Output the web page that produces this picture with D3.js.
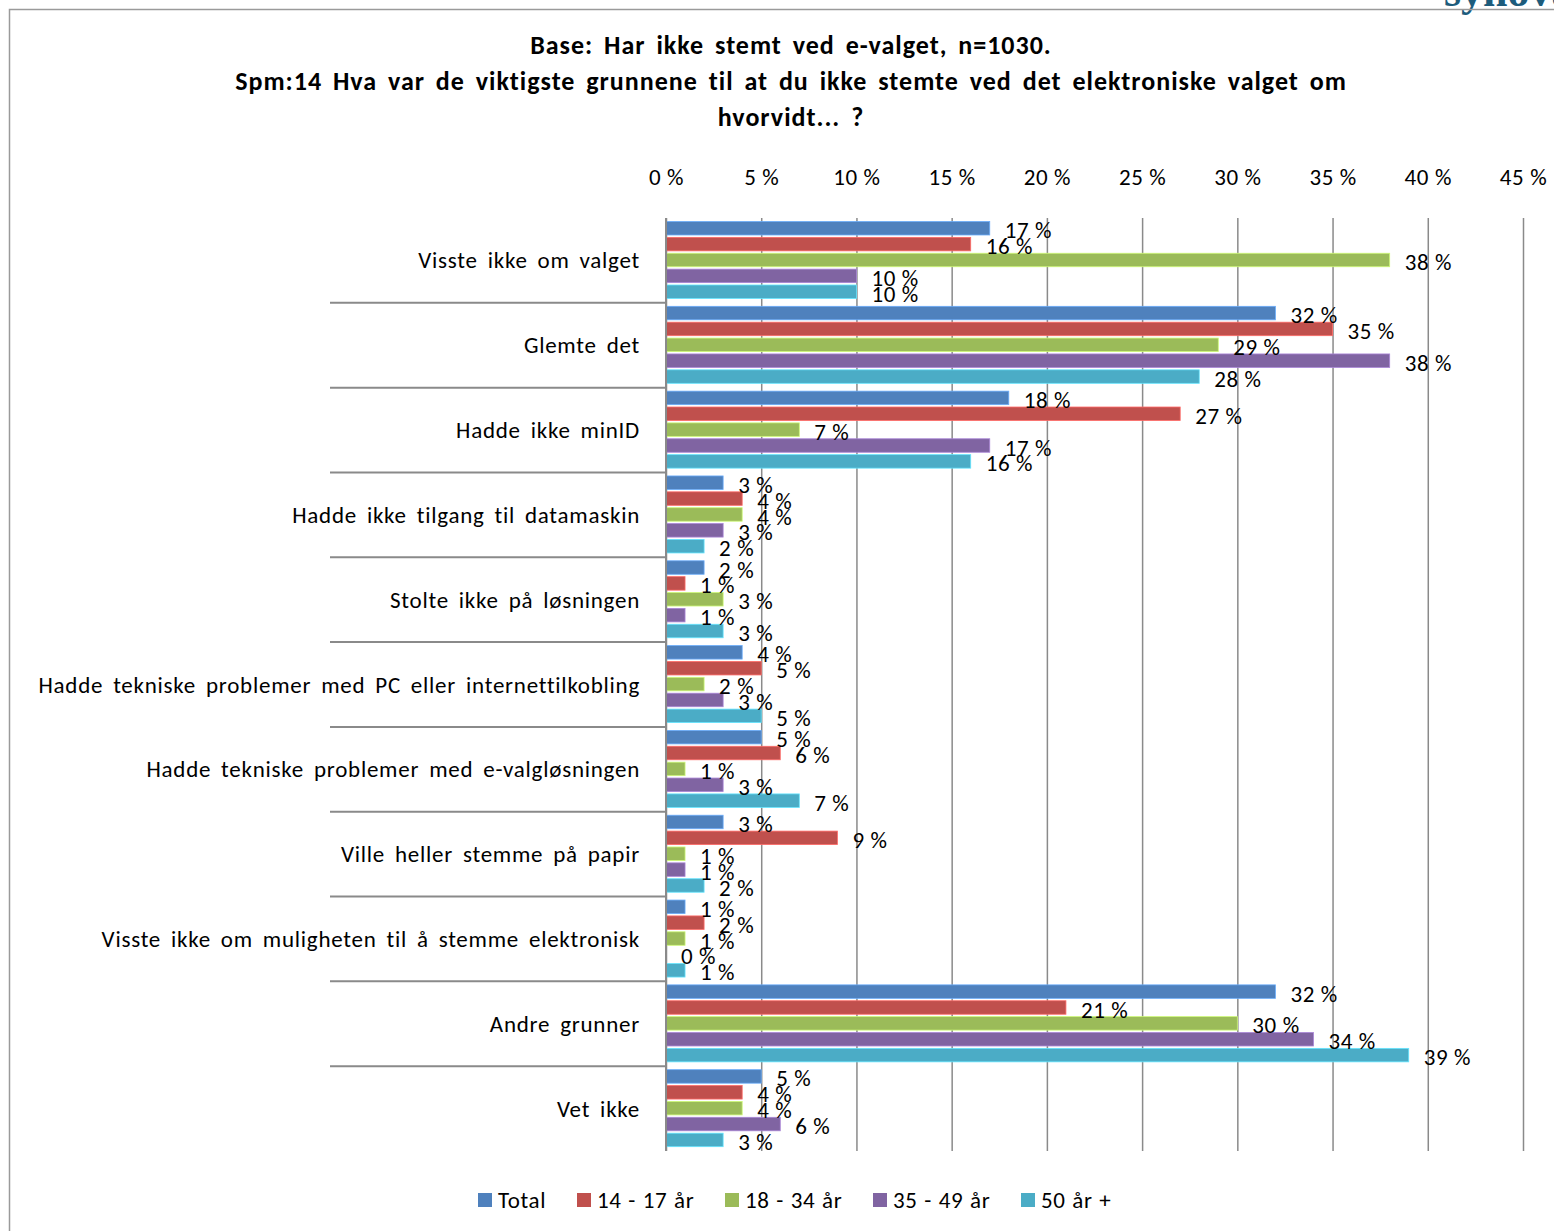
<!DOCTYPE html>
<html>
<head>
<meta charset="utf-8">
<script src="https://cdn.jsdelivr.net/npm/d3@7"></script>
<style>
  body { margin: 0; background: #fff; }
  svg text { font-family: Carlito, Lato, sans-serif; letter-spacing: 0.6px; word-spacing: 0px; }
  svg text.cat { letter-spacing: 0.75px; word-spacing: 4px; }
  svg text.title { letter-spacing: 1px; word-spacing: 4px; }
  svg text.legend { word-spacing: 1px; }
</style>
</head>
<body>
<div id="chart"></div>
<script>
const categories = [
    'Visste ikke om valget',
    'Glemte det',
    'Hadde ikke minID',
    'Hadde ikke tilgang til datamaskin',
    'Stolte ikke på løsningen',
    'Hadde tekniske problemer med PC eller internettilkobling',
    'Hadde tekniske problemer med e-valgløsningen',
    'Ville heller stemme på papir',
    'Visste ikke om muligheten til å stemme elektronisk',
    'Andre grunner',
    'Vet ikke'
];

const seriesNames = ['Total', '14 - 17 år', '18 - 34 år', '35 - 49 år', '50 år +'];
const seriesColors = ['#4F81BD', '#C0504D', '#9BBB59', '#8064A2', '#4BACC6'];

const total   = [17, 32, 18, 3, 2, 4, 5, 3, 1, 32, 5];
const age1417 = [16, 35, 27, 4, 1, 5, 6, 9, 2, 21, 4];
const age1834 = [38, 29, 7, 4, 3, 2, 1, 1, 1, 30, 4];
const age3549 = [10, 38, 17, 3, 1, 3, 3, 1, 0, 34, 6];
const age50   = [10, 28, 16, 2, 3, 5, 7, 2, 1, 39, 3];

const xTicks = [0, 5, 10, 15, 20, 25, 30, 35, 40, 45];

const titleLines = [
    'Base: Har ikke stemt ved e-valget, n=1030.',
    'Spm:14 Hva var de viktigste grunnene til at du ikke stemte ved det elektroniske valget om',
    'hvorvidt... ?'
];

const WIDTH = 1554;
const HEIGHT = 1231;
const PLOT = { left: 666, right: 1523, top: 218, bottom: 1151 };

const seriesValues = [total, age1417, age1834, age3549, age50];

const svg = d3.select('#chart').append('svg')
    .attr('width', WIDTH)
    .attr('height', HEIGHT);

// frame + logo remnant
svg.append('text')
    .attr('x', 1444)
    .attr('y', 6)
    .attr('font-size', 44)
    .attr('font-weight', 'bold')
    .style('font-family', '"Liberation Serif", serif')
    .style('letter-spacing', '0px')
    .attr('fill', '#1d5c7c')
    .text('synovate');

svg.append('rect')
    .attr('x', 9.5)
    .attr('y', 9.5)
    .attr('width', WIDTH + 20)
    .attr('height', HEIGHT + 20)
    .attr('fill', 'none')
    .attr('stroke', '#9a9a9a')
    .attr('stroke-width', 1.5);

// title
svg.append('g').selectAll('text')
    .data(titleLines)
    .enter()
    .append('text')
    .attr('class', 'title')
    .attr('x', 791)
    .attr('y', (d, i) => 54 + i * 36)
    .attr('text-anchor', 'middle')
    .attr('font-size', 26)
    .attr('font-weight', 'bold')
    .text(d => d);

const x = d3.scaleLinear()
    .domain([0, 45])
    .range([PLOT.left, PLOT.right]);

const y = d3.scaleBand()
    .domain(categories)
    .range([PLOT.top, PLOT.bottom]);

const ySub = d3.scaleBand()
    .domain(seriesNames)
    .range([3.5, 80.5])
    .paddingInner(0.15);

// grid + top tick labels
const axis = d3.axisTop(x)
    .tickValues(xTicks)
    .tickFormat(d => d + ' %')
    .tickSizeInner(-(PLOT.bottom - PLOT.top))
    .tickSizeOuter(0)
    .tickPadding(33);

const axisG = svg.append('g')
    .attr('transform', `translate(0,${PLOT.top})`)
    .call(axis);

axisG.select('.domain').remove();
axisG.selectAll('line')
    .attr('stroke', '#8a8a8a')
    .attr('stroke-width', 1.5);
axisG.selectAll('text')
    .attr('font-size', 23)
    .attr('fill', '#000')
    .style('font-family', 'Carlito, Lato, sans-serif');

// category separators (long ticks to the left)
svg.append('g').selectAll('line')
    .data(categories.slice(1))
    .enter()
    .append('line')
    .attr('x1', 330)
    .attr('x2', PLOT.left)
    .attr('y1', d => y(d))
    .attr('y2', d => y(d))
    .attr('stroke', '#8a8a8a')
    .attr('stroke-width', 2);

// category labels
svg.append('g').selectAll('text')
    .data(categories)
    .enter()
    .append('text')
    .attr('class', 'cat')
    .attr('x', 640)
    .attr('y', d => y(d) + y.bandwidth() / 2)
    .attr('dy', '0.35em')
    .attr('text-anchor', 'end')
    .attr('font-size', 23)
    .text(d => d);

// bars
const rows = [];
categories.forEach((c, ci) => {
    seriesNames.forEach((s, si) => {
        rows.push({ cat: c, series: s, color: seriesColors[si], value: seriesValues[si][ci] });
    });
});

const barG = svg.append('g');

barG.selectAll('rect')
    .data(rows.filter(d => d.value > 0))
    .enter()
    .append('rect')
    .attr('x', x(0))
    .attr('y', d => y(d.cat) + ySub(d.series))
    .attr('width', d => x(d.value) - x(0))
    .attr('height', ySub.bandwidth())
    .attr('fill', d => d.color)
    .attr('stroke', d => d3.color(d.color).brighter(0.8))
    .attr('stroke-width', 0.8);

// value labels
barG.selectAll('text')
    .data(rows)
    .enter()
    .append('text')
    .attr('x', d => x(d.value) + 15)
    .attr('y', d => y(d.cat) + ySub(d.series) + ySub.bandwidth() / 2 + 2)
    .attr('dy', '0.35em')
    .attr('font-size', 23)
    .text(d => d.value + ' %');

// axis line
svg.append('line')
    .attr('x1', PLOT.left)
    .attr('x2', PLOT.left)
    .attr('y1', PLOT.top)
    .attr('y2', PLOT.bottom)
    .attr('stroke', '#8a8a8a')
    .attr('stroke-width', 2);

// legend
const legendX = [478, 577, 725, 873, 1021];
const legend = svg.append('g').selectAll('g')
    .data(seriesNames)
    .enter()
    .append('g')
    .attr('transform', (d, i) => `translate(${legendX[i]},1193)`);

legend.append('rect')
    .attr('width', 14)
    .attr('height', 14)
    .attr('fill', (d, i) => seriesColors[i]);

legend.append('text')
    .attr('class', 'legend')
    .attr('x', 20)
    .attr('y', 7)
    .attr('dy', '0.35em')
    .attr('font-size', 23)
    .text(d => d);
</script>
</body>
</html>
